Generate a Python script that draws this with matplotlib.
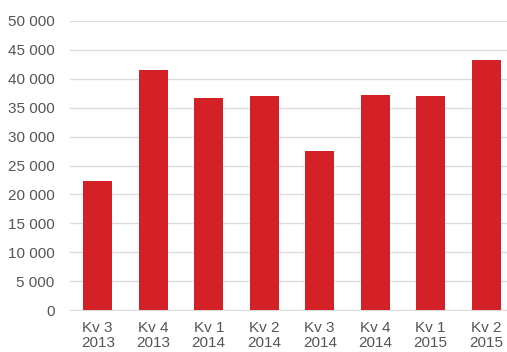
import matplotlib.pyplot as plt
import numpy as np

labels = ['Kv 3\n2013', 'Kv 4\n2013', 'Kv 1\n2014', 'Kv 2\n2014',
          'Kv 3\n2014', 'Kv 4\n2014', 'Kv 1\n2015', 'Kv 2\n2015']
values = [22300, 41600, 36700, 37000, 27500, 37200, 37100, 43300]
yticks = list(range(0, 50001, 5000))

plt.rcParams['font.family'] = ['Liberation Sans', 'DejaVu Sans']

fig = plt.figure(figsize=(5.07, 3.52), dpi=100)
ax = fig.add_axes([70/507, 1 - 310/352, 1 - 70/507, 289/352])

x = np.arange(len(values))
ax.bar(x, values, width=0.52, color='#d42027', zorder=3)

ax.set_ylim(0, 50000)
ax.set_xlim(-0.5, 7.5 - 7/55.5)
ax.set_yticks(yticks)
ax.set_yticklabels([f'{v:,}'.replace(',', ' ') for v in yticks])
ax.set_xticks(x)
ax.set_xticklabels(labels, linespacing=1.1)

ax.grid(axis='y', color='#dcdcdc', linewidth=1, zorder=0)
for s in ['top', 'right', 'left']:
    ax.spines[s].set_visible(False)
ax.spines['bottom'].set_color('#dcdcdc')
ax.tick_params(axis='both', length=0, colors='#555555', labelsize=11)
ax.tick_params(axis='y', pad=11)
ax.tick_params(axis='x', pad=8)

fig.savefig('out.png', dpi=100)
